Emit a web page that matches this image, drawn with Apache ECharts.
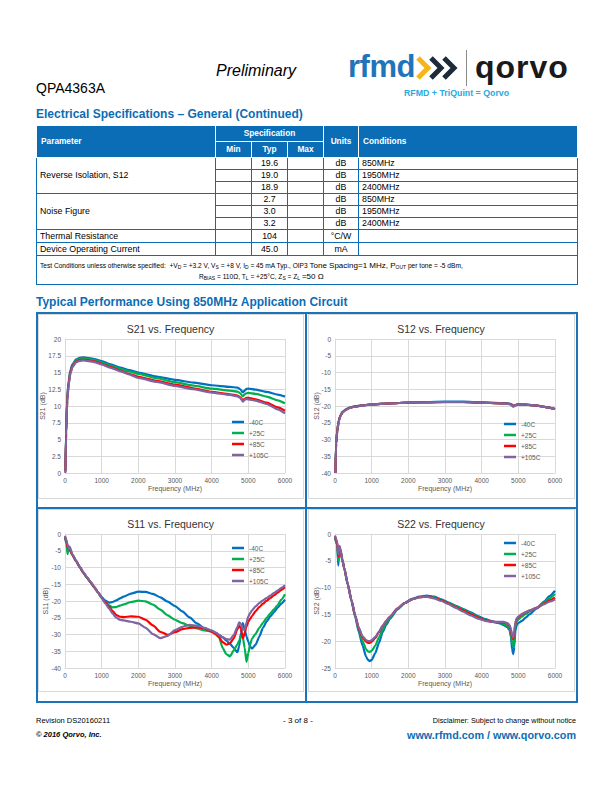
<!DOCTYPE html>
<html>
<head>
<meta charset="utf-8">
<title>QPA4363A</title>
<script src="https://cdn.jsdelivr.net/npm/echarts@6/dist/echarts.min.js"></script>
<style>
html,body{margin:0;padding:0;background:#fff;}
body{width:612px;height:792px;position:relative;overflow:hidden;font-family:"Liberation Sans",Arial,Helvetica,sans-serif;color:#000;}
.a{position:absolute;white-space:nowrap;line-height:1;}
#chart{position:absolute;left:0;top:0;width:612px;height:792px;z-index:5;}
table.spec{position:absolute;left:36px;top:125px;width:541px;border-collapse:collapse;table-layout:fixed;font-size:8.8px;line-height:1;}
table.spec td{border:1px solid #0b6db5;padding:0;white-space:nowrap;}
table.spec th{background:#0b6db5;color:#fff;font-weight:bold;font-size:8.3px;border:1px solid #fff;padding:0;white-space:nowrap;}
td.c{text-align:center;}
td.l{padding-left:3px !important;}
.sub{font-size:5px;vertical-align:-1px;}
.blue{color:#0b6db5;font-weight:bold;}
.frame{position:absolute;background:#1b73b9;}
.carea{position:absolute;border:1px solid #d9d9d9;box-sizing:border-box;}
</style>
</head>
<body>
<!-- header -->
<div class="a" style="left:216px;top:63px;font-size:16px;font-style:italic;">Preliminary</div>
<div class="a" style="left:36px;top:81px;font-size:14px;">QPA4363A</div>
<div class="a" style="left:348px;top:51px;font-size:31px;font-weight:bold;color:#1f74ba;letter-spacing:-0.5px;">rfmd</div>
<svg class="a" style="left:414px;top:55px;" width="48" height="28">
  <polyline points="4,3 14,13 4,23" fill="none" stroke="#f6b519" stroke-width="5"/>
  <polyline points="17,3 27,13 17,23" fill="none" stroke="#1c2a3a" stroke-width="5"/>
  <polyline points="30,3 40,13 30,23" fill="none" stroke="#1c2a3a" stroke-width="5"/>
</svg>
<div class="a" style="left:466px;top:50px;width:1px;height:36px;background:#8a8a8a;"></div>
<div class="a" style="left:475px;top:51px;font-size:32px;font-weight:bold;color:#1a1a1a;letter-spacing:1px;">qorvo</div>
<div class="a" style="left:404px;top:89px;font-size:8.8px;font-weight:bold;color:#2aa8e0;">RFMD + TriQuint = Qorvo</div>

<div class="a blue" style="left:36px;top:108px;font-size:12px;">Electrical Specifications – General (Continued)</div>

<table class="spec">
<colgroup><col style="width:179px"><col style="width:36px"><col style="width:36px"><col style="width:36px"><col style="width:35px"><col style="width:219px"></colgroup>
<tr style="height:16px"><th rowspan="2" style="text-align:left;padding-left:4px;">Parameter</th><th colspan="3">Specification</th><th rowspan="2">Units</th><th rowspan="2" style="text-align:left;padding-left:4px;">Conditions</th></tr>
<tr style="height:16px"><th>Min</th><th>Typ</th><th>Max</th></tr>
<tr style="height:12px"><td rowspan="3" class="l">Reverse Isolation, S12</td><td></td><td class="c">19.6</td><td></td><td class="c">dB</td><td class="l">850MHz</td></tr>
<tr style="height:12px"><td></td><td class="c">19.0</td><td></td><td class="c">dB</td><td class="l">1950MHz</td></tr>
<tr style="height:12px"><td></td><td class="c">18.9</td><td></td><td class="c">dB</td><td class="l">2400MHz</td></tr>
<tr style="height:12px"><td rowspan="3" class="l">Noise Figure</td><td></td><td class="c">2.7</td><td></td><td class="c">dB</td><td class="l">850MHz</td></tr>
<tr style="height:12px"><td></td><td class="c">3.0</td><td></td><td class="c">dB</td><td class="l">1950MHz</td></tr>
<tr style="height:12px"><td></td><td class="c">3.2</td><td></td><td class="c">dB</td><td class="l">2400MHz</td></tr>
<tr style="height:13px"><td class="l">Thermal Resistance</td><td></td><td class="c">104</td><td></td><td class="c">°C/W</td><td></td></tr>
<tr style="height:13px"><td class="l">Device Operating Current</td><td></td><td class="c">45.0</td><td></td><td class="c">mA</td><td></td></tr>
<tr style="height:29px"><td colspan="6"></td></tr>
</table>
<div class="a" style="left:40px;top:262px;font-size:6.6px;">Test Conditions unless otherwise specified:&nbsp;&nbsp;+V<span class="sub">D</span> = +3.2 V, V<span class="sub">S</span> = +8 V, I<span class="sub">D</span> = 45 mA Typ., OIP3 <span style="font-size:8px">Tone Spacing=1 MHz, P</span><span class="sub">OUT</span> per tone = -5 dBm,</div>
<div class="a" style="left:199px;top:273px;font-size:6.6px;">R<span class="sub">BIAS</span> = 110Ω, T<span class="sub">L</span> = +25°C, Z<span class="sub">S</span> = Z<span class="sub">L</span> <span style="font-size:8px">=50 Ω</span></div>

<div class="a blue" style="left:36px;top:296px;font-size:12px;">Typical Performance Using 850MHz Application Circuit</div>

<!-- chart frames -->
<div class="frame" style="left:36px;top:312px;width:541px;height:1.5px;"></div>
<div class="frame" style="left:36px;top:701px;width:541px;height:1.5px;"></div>
<div class="frame" style="left:36px;top:507px;width:541px;height:1.5px;"></div>
<div class="frame" style="left:36px;top:312px;width:1.5px;height:391px;"></div>
<div class="frame" style="left:305px;top:312px;width:1.5px;height:391px;"></div>
<div class="frame" style="left:576px;top:312px;width:1.5px;height:391px;"></div>
<div class="carea" style="left:38px;top:314px;width:266px;height:185px;"></div>
<div class="carea" style="left:308px;top:314px;width:267px;height:185px;"></div>
<div class="carea" style="left:38px;top:509px;width:266px;height:183px;"></div>
<div class="carea" style="left:308px;top:509px;width:267px;height:183px;"></div>

<!-- footer -->
<div class="a" style="left:36px;top:717px;font-size:7.5px;">Revision DS20160211</div>
<div class="a" style="left:36px;top:731px;font-size:7.5px;font-weight:bold;font-style:italic;">© 2016 Qorvo, Inc.</div>
<div class="a" style="left:283px;top:717px;font-size:8px;">- 3 of 8 -</div>
<div class="a" style="right:36px;top:717px;font-size:7.3px;">Disclaimer: Subject to change without notice</div>
<div class="a blue" style="right:36px;top:730px;font-size:10.8px;">www.rfmd.com / www.qorvo.com</div>

<div id="chart"></div>

<script>
// ---------- data ----------
const seriesNames = ['-40C', '+25C', '+85C', '+105C'];
const xTicks = [0, 1000, 2000, 3000, 4000, 5000, 6000];

// S21 (dB)
const s21Freq = [10, 30, 60, 100, 150, 200, 300, 400, 500, 600, 800, 1000, 1250, 1500, 1750, 2000, 2500, 3000, 3500, 4000, 4500, 4700, 4780, 4850, 4900, 4950, 5000, 5200, 5500, 5800, 6000];
const s21M40 = [0.4, 6.2, 11.2, 13.8, 15.4, 16.2, 16.95, 17.2, 17.25, 17.2, 17.0, 16.7, 16.2, 15.75, 15.35, 15.0, 14.4, 13.9, 13.5, 13.1, 12.85, 12.75, 12.5, 12.05, 12.3, 12.55, 12.6, 12.45, 12.1, 11.7, 11.4];
const s21P25 = [0.3, 6.0, 11.0, 13.6, 15.2, 16.0, 16.8, 17.05, 17.1, 17.05, 16.85, 16.5, 16.0, 15.55, 15.15, 14.8, 14.15, 13.55, 13.05, 12.6, 12.3, 12.15, 11.9, 11.45, 11.75, 11.9, 11.95, 11.8, 11.4, 10.85, 10.4];
const s21P85 = [0.2, 5.8, 10.8, 13.4, 15.0, 15.9, 16.6, 16.85, 16.9, 16.85, 16.65, 16.3, 15.8, 15.3, 14.8, 14.35, 13.75, 13.2, 12.65, 12.1, 11.75, 11.55, 11.3, 10.85, 11.05, 11.2, 11.2, 11.0, 10.5, 9.8, 9.3];
const s21P105 = [0.0, 5.5, 10.6, 13.2, 14.9, 15.8, 16.5, 16.75, 16.8, 16.75, 16.55, 16.2, 15.7, 15.2, 14.7, 14.2, 13.6, 13.0, 12.5, 12.0, 11.65, 11.45, 11.2, 10.65, 10.9, 11.05, 11.0, 10.8, 10.3, 9.5, 8.9];

// S12 (dB)
const s12Freq = [10, 30, 60, 100, 150, 200, 300, 400, 500, 700, 1000, 1500, 2000, 2500, 3000, 3500, 4000, 4500, 4700, 4800, 4860, 4920, 5000, 5200, 5500, 5800, 6000];
const s12M40 = [-40, -31.0, -27.5, -24.4, -22.8, -21.8, -21.0, -20.5, -20.2, -19.9, -19.5, -19.2, -19.0, -18.8, -18.7, -18.7, -18.9, -19.1, -19.2, -19.4, -19.9, -19.7, -19.5, -19.6, -19.9, -20.4, -20.9];
const s12P25 = [-40, -31.2, -27.6, -24.5, -22.9, -21.9, -21.0, -20.5, -20.2, -19.9, -19.5, -19.2, -19.0, -18.9, -18.8, -18.8, -19.0, -19.2, -19.3, -19.5, -20.0, -19.8, -19.5, -19.6, -19.9, -20.4, -20.9];
const s12P85 = [-40, -31.3, -27.7, -24.5, -22.9, -21.9, -21.1, -20.6, -20.3, -19.9, -19.5, -19.2, -19.0, -18.9, -18.8, -18.8, -19.0, -19.2, -19.3, -19.5, -20.1, -19.8, -19.5, -19.6, -19.9, -20.4, -20.9];
const s12P105 = [-40, -31.4, -27.8, -24.6, -23.0, -22.0, -21.1, -20.6, -20.3, -20.0, -19.5, -19.2, -19.0, -18.9, -18.8, -18.85, -19.0, -19.2, -19.35, -19.6, -20.2, -19.8, -19.5, -19.6, -19.9, -20.4, -20.9];

// S11 (dB)
const s11Freq = [0, 40, 70, 100, 130, 200, 300, 400, 500, 600, 700, 800, 900, 1000, 1100, 1200, 1300, 1400, 1500, 1600, 1800, 2000, 2200, 2400, 2600, 2800, 3000, 3200, 3400, 3600, 3800, 4000, 4100, 4200, 4300, 4400, 4500, 4600, 4700, 4750, 4800, 4850, 4900, 4950, 5000, 5050, 5100, 5200, 5300, 5400, 5500, 5600, 5700, 5800, 5900, 6000];
const s11M40 = [-1.0, -2.0, -4.5, -3.6, -4.5, -6.2, -8.0, -9.8, -11.5, -13.0, -14.4, -15.9, -17.4, -18.8, -19.9, -20.5, -20.3, -19.8, -19.2, -18.7, -17.8, -17.2, -17.3, -17.9, -18.9, -20.2, -21.5, -23.1, -24.9, -26.7, -28.2, -28.9, -29.4, -30.1, -30.9, -31.8, -32.8, -34.0, -35.3, -33.5, -29.5, -26.6, -28.5, -30.6, -32.2, -33.6, -34.2, -33.0, -30.6, -28.0, -26.1, -24.6, -23.3, -22.0, -20.8, -19.6];
const s11P25 = [-1.2, -3.0, -6.0, -4.2, -4.8, -6.3, -8.1, -9.9, -11.6, -13.1, -14.5, -16.0, -17.5, -19.0, -20.3, -21.3, -21.9, -21.8, -21.4, -21.0, -20.3, -19.9, -20.1, -21.1, -22.6, -24.3, -25.6, -26.6, -27.4, -28.2, -28.8, -29.1, -29.6, -30.8, -34.0, -35.9, -36.5, -34.8, -33.0, -31.8, -30.4, -30.8, -34.0, -38.2, -35.5, -33.0, -31.2, -29.8, -28.0, -26.5, -25.0, -23.7, -22.5, -21.2, -19.6, -18.0];
const s11P85 = [-0.8, -2.2, -4.0, -4.5, -4.6, -6.2, -8.0, -9.8, -11.5, -13.0, -14.4, -15.9, -17.4, -19.0, -20.4, -21.7, -23.0, -24.2, -24.7, -24.8, -24.6, -24.7, -25.6, -27.3, -29.2, -30.1, -29.3, -28.4, -28.0, -27.9, -28.2, -29.2, -29.8, -30.8, -32.3, -33.0, -32.6, -31.2, -28.5, -27.3, -28.3, -31.2, -29.6, -27.6, -26.2, -25.3, -24.5, -23.0, -21.8, -20.8, -19.9, -19.1, -18.3, -17.5, -16.7, -15.9];
const s11P105 = [-0.5, -2.0, -3.2, -4.6, -3.8, -6.0, -7.9, -9.7, -11.4, -12.9, -14.3, -15.8, -17.4, -19.1, -20.7, -22.2, -23.8, -25.0, -25.6, -25.8, -26.2, -26.7, -28.0, -29.9, -31.1, -30.4, -28.7, -27.7, -27.1, -27.4, -28.0, -28.8, -29.4, -30.1, -30.8, -31.4, -31.5, -30.2, -27.8, -26.4, -26.8, -28.5, -28.6, -26.5, -24.6, -23.6, -22.8, -21.6, -20.6, -19.8, -19.1, -18.4, -17.6, -16.9, -16.1, -15.3];

// S22 (dB)
const s22Freq = [0, 30, 60, 90, 120, 150, 200, 250, 350, 450, 550, 650, 750, 850, 900, 950, 1000, 1100, 1200, 1300, 1400, 1500, 1700, 1900, 2100, 2300, 2500, 2700, 2900, 3100, 3300, 3500, 3700, 3900, 4100, 4300, 4500, 4600, 4700, 4760, 4800, 4830, 4860, 4890, 4920, 4960, 5000, 5100, 5200, 5300, 5500, 5700, 5850, 6000];
const s22M40 = [-0.6, -1.6, -2.0, -5.9, -2.5, -3.2, -4.9, -6.4, -9.5, -12.5, -15.4, -18.3, -20.8, -22.9, -23.5, -23.7, -23.5, -22.2, -20.3, -18.3, -16.9, -15.8, -14.1, -12.9, -12.1, -11.7, -11.5, -11.7, -12.2, -12.8, -13.4, -14.0, -14.6, -15.3, -15.9, -16.3, -16.7, -17.0, -17.4, -17.9, -19.3, -21.5, -22.4, -21.0, -18.0, -16.9, -16.6, -16.2, -15.6, -15.0, -13.9, -12.6, -11.6, -10.6];
const s22P25 = [-0.5, -1.4, -1.8, -5.0, -2.4, -3.1, -4.8, -6.3, -9.4, -12.4, -15.3, -17.9, -20.0, -21.5, -21.9, -22.0, -21.8, -20.8, -19.3, -17.8, -16.6, -15.6, -14.0, -12.9, -12.2, -11.8, -11.7, -11.8, -12.3, -12.9, -13.5, -14.1, -14.8, -15.5, -16.0, -16.4, -16.6, -16.8, -17.1, -17.6, -18.7, -20.4, -21.0, -19.8, -17.2, -16.3, -15.9, -15.4, -14.9, -14.5, -13.8, -12.8, -12.0, -11.2];
const s22P85 = [-0.4, -1.2, -1.6, -4.2, -2.3, -3.0, -4.8, -6.3, -9.4, -12.4, -15.2, -17.6, -19.3, -20.1, -20.3, -20.3, -20.1, -19.4, -18.3, -17.2, -16.2, -15.4, -13.9, -12.9, -12.2, -11.8, -11.7, -11.9, -12.4, -13.0, -13.7, -14.3, -15.0, -15.6, -16.1, -16.4, -16.5, -16.5, -16.7, -17.1, -18.0, -19.3, -19.6, -18.5, -16.6, -15.8, -15.5, -15.0, -14.6, -14.3, -13.8, -13.0, -12.4, -11.9];
const s22P105 = [-0.3, -1.0, -1.5, -3.8, -2.2, -3.0, -4.8, -6.3, -9.4, -12.4, -15.2, -17.5, -19.1, -19.8, -20.0, -20.0, -19.8, -19.2, -18.2, -17.1, -16.2, -15.4, -13.9, -12.9, -12.2, -11.8, -11.7, -12.0, -12.5, -13.1, -13.8, -14.5, -15.2, -15.8, -16.2, -16.4, -16.4, -16.4, -16.6, -17.0, -17.8, -19.0, -19.3, -18.2, -16.4, -15.7, -15.4, -14.9, -14.6, -14.3, -13.8, -13.1, -12.6, -12.2];

// ---------- build ----------
const colors = ['#0070C0', '#00B050', '#FF0000', '#8064A2'];
const FONT = '"Liberation Sans", Arial, sans-serif';
const pairs = (f, v) => f.map((x, i) => [x, v[i]]);

const panels = [
  {title: 'S21 vs. Frequency', yName: 'S21 (dB)', left: 65, top: 339, cx: 170.5, ymin: 0, ymax: 20, yint: 2.5, nameGap: 19,
   freq: s21Freq, data: [s21M40, s21P25, s21P85, s21P105], lgLeft: 232, lgTop: 418},
  {title: 'S12 vs. Frequency', yName: 'S12 (dB)', left: 335, top: 339, cx: 441, ymin: -40, ymax: 0, yint: 5, nameGap: 15,
   freq: s12Freq, data: [s12M40, s12P25, s12P85, s12P105], lgLeft: 504, lgTop: 420},
  {title: 'S11 vs. Frequency', yName: 'S11 (dB)', left: 65, top: 534, cx: 170.5, ymin: -40, ymax: 0, yint: 5, nameGap: 16,
   freq: s11Freq, data: [s11M40, s11P25, s11P85, s11P105], lgLeft: 232, lgTop: 544},
  {title: 'S22 vs. Frequency', yName: 'S22 (dB)', left: 335, top: 534, cx: 441, ymin: -25, ymax: 0, yint: 5, nameGap: 15,
   freq: s22Freq, data: [s22M40, s22P25, s22P85, s22P105], lgLeft: 504, lgTop: 539}
];

const grid = [], xAxis = [], yAxis = [], series = [], title = [], legend = [];
const gridColor = '#d9d9d9', labelColor = '#595959';
panels.forEach((p, i) => {
  grid.push({left: p.left, top: p.top, width: 220, height: 134, containLabel: false});
  title.push({text: p.title, left: p.cx, top: p.top - 16, textAlign: 'center', padding: 0,
    textStyle: {fontFamily: FONT, fontSize: 10.5, fontWeight: 'normal', color: '#333'}});
  xAxis.push({gridIndex: i, type: 'value', min: 0, max: 6000, interval: 1000,
    name: 'Frequency (MHz)', nameLocation: 'middle', nameGap: 12, nameMoveOverlap: false,
    nameTextStyle: {fontFamily: FONT, fontSize: 7, color: labelColor},
    axisLine: {show: true, onZero: false, lineStyle: {color: gridColor, width: 1}},
    axisTick: {show: false},
    splitLine: {show: true, lineStyle: {color: gridColor, width: 1}},
    axisLabel: {fontFamily: FONT, fontSize: 6.5, color: labelColor, margin: 4,
      formatter: v => xTicks.includes(v) ? String(v) : ''}});
  yAxis.push({gridIndex: i, type: 'value', min: p.ymin, max: p.ymax, interval: p.yint,
    name: p.yName, nameLocation: 'middle', nameGap: p.nameGap, nameRotate: 90, nameMoveOverlap: false,
    nameTextStyle: {fontFamily: FONT, fontSize: 7, color: labelColor},
    axisLine: {show: true, lineStyle: {color: gridColor, width: 1}},
    axisTick: {show: false},
    splitLine: {show: true, lineStyle: {color: gridColor, width: 1}},
    axisLabel: {fontFamily: FONT, fontSize: 6.5, color: labelColor, margin: 4}});
  p.data.forEach((vals, k) => {
    series.push({name: seriesNames[k], type: 'line', xAxisIndex: i, yAxisIndex: i,
      data: pairs(p.freq, vals), showSymbol: false, symbol: 'none',
      smooth: 0.2, smoothMonotone: 'x',
      lineStyle: {width: 2.2, color: colors[k]}, itemStyle: {color: colors[k]}});
  });
  legend.push({orient: 'vertical', left: p.lgLeft, top: p.lgTop, padding: 0, itemGap: 3,
    itemWidth: 12, itemHeight: 2.5, icon: 'rect', data: seriesNames, selectedMode: false,
    textStyle: {fontFamily: FONT, fontSize: 6.5, color: labelColor, lineHeight: 8}});
});

const chart = echarts.init(document.getElementById('chart'), null, {renderer: 'svg', width: 612, height: 792});
chart.setOption({animation: false, color: colors, title, legend, grid, xAxis, yAxis, series});
</script>
</body>
</html>
